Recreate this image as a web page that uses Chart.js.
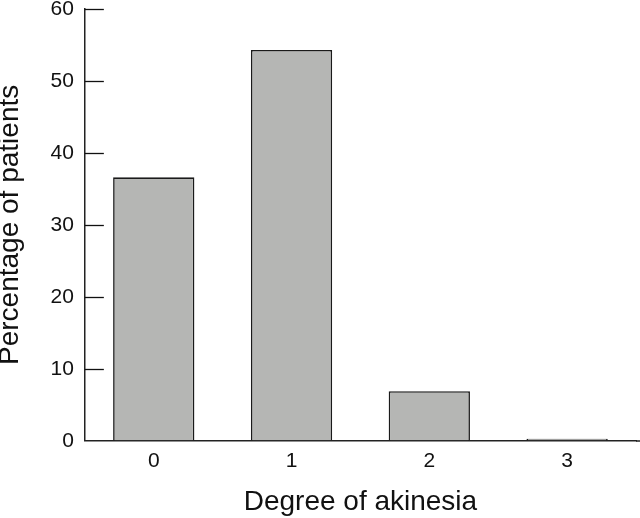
<!DOCTYPE html>
<html><head><meta charset="utf-8">
<script src="https://cdn.jsdelivr.net/npm/chart.js@4"></script>
<style>html,body{margin:0;padding:0;background:#fff}#wrap{width:640px;height:518px}</style>
</head><body><div id="wrap"><canvas id="c"></canvas></div>
<script>
const categories = ["0", "1", "2", "3"];
const percentages = [36.6, 54.3, 6.9, 0.3];
const yTicks = [0, 10, 20, 30, 40, 50, 60];
const xTitle = "Degree of akinesia";
const yTitle = "Percentage of patients";

const FONT = 'Liberation Sans, Arial, sans-serif';

const inwardTicks = {
  id: 'inwardTicks',
  afterDraw(chart) {
    const y = chart.scales.y, ctx = chart.ctx, a = chart.chartArea;
    ctx.save();
    ctx.strokeStyle = '#111';
    ctx.lineWidth = 1.3;
    yTicks.forEach(v => {
      if (v === 0) return;
      const py = Math.round(y.getPixelForValue(v)) + 0.5;
      ctx.beginPath(); ctx.moveTo(a.left, py); ctx.lineTo(a.left + 19, py); ctx.stroke();
    });
    const px = Math.round(chart.scales.y.getPixelForValue(0));
    ctx.lineWidth = 1.5; ctx.strokeStyle = '#222';
    ctx.beginPath(); ctx.moveTo(a.right, px); ctx.lineTo(chart.width, px); ctx.stroke();
    ctx.restore();
  }
};

new Chart(document.getElementById('c'), {
  type: 'bar',
  data: { labels: categories, datasets: [{ data: percentages, backgroundColor: '#b5b6b4', borderColor: '#1a1a1a', borderWidth: 1.6, barPercentage: 0.59, categoryPercentage: 1 }] },
  options: {
    responsive: true, maintainAspectRatio: false, animation: false,
    layout: { padding: { top: 0, right: 4, bottom: 2, left: 0 } },
    plugins: { legend: { display: false }, tooltip: { enabled: false } },
    scales: {
      x: {
        grid: { display: false, drawTicks: false },
        border: { display: true, color: '#222', width: 1.5 },
        ticks: { color: '#111', padding: 8, font: { family: FONT, size: 21 } },
        title: { display: true, text: xTitle, color: '#111', padding: { top: 6, bottom: 0 }, font: { family: FONT, size: 28, lineHeight: 1 } }
      },
      y: {
        min: 0, max: 60,
        afterBuildTicks(scale) { scale.ticks = yTicks.map(v => ({ value: v })); },
        grid: { display: true, drawOnChartArea: false, drawTicks: true, tickLength: 11, color: 'rgba(0,0,0,0)' },
        border: { display: true, color: '#222', width: 1.5 },
        ticks: { color: '#111', padding: 0, font: { family: FONT, size: 21, lineHeight: 0.85 } },
        title: { display: true, text: yTitle, color: '#111', padding: { top: 0, bottom: 29.5 }, font: { family: FONT, size: 28, lineHeight: 0.75 } }
      }
    }
  },
  plugins: [inwardTicks]
});
</script></body></html>
